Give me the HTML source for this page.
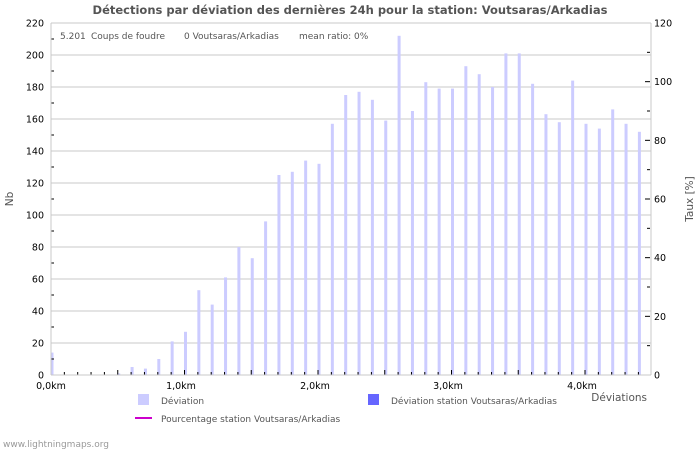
<!DOCTYPE html>
<html><head><meta charset="utf-8"><style>
body{margin:0;background:#fff;}
svg{display:block;font-family:"DejaVu Sans","Liberation Sans",sans-serif;}
</style></head><body>
<svg width="700" height="450" viewBox="0 0 700 450" xmlns="http://www.w3.org/2000/svg">
<rect width="700" height="450" fill="#fff"/>
<text x="350" y="14" text-anchor="middle" font-size="11.5" font-weight="bold" fill="#555">Détections par déviation des dernières 24h pour la station: Voutsaras/Arkadias</text>
<g id="grid" stroke="#c8c8c8" stroke-width="1"></g>
<g id="bars" fill="#ccccff"></g>
<g id="ticks" stroke="#000" stroke-width="1"></g>
<line x1="51" y1="23" x2="51" y2="375" stroke="#c8c8c8"/>
<line x1="651" y1="23" x2="651" y2="375" stroke="#c8c8c8"/>
<line x1="51" y1="375" x2="651" y2="375" stroke="#c8c8c8"/>
<line x1="51" y1="23" x2="651" y2="23" stroke="#c8c8c8"/>
<g id="ylab" font-size="9.5" fill="#000"></g>
<text x="60" y="39" font-size="9" fill="#555">5.201</text>
<text x="91" y="39" font-size="9" fill="#555">Coups de foudre</text>
<text x="184" y="39" font-size="9" fill="#555">0 Voutsaras/Arkadias</text>
<text x="299" y="39" font-size="9" fill="#555">mean ratio: 0%</text>
<text x="13" y="199" font-size="10.5" fill="#555" transform="rotate(-90 13 199)" text-anchor="middle">Nb</text>
<text x="693" y="199" font-size="10.5" fill="#555" transform="rotate(-90 693 199)" text-anchor="middle">Taux [%]</text>
<text x="51" y="389" font-size="9.5" text-anchor="middle">0,0km</text>
<text x="181" y="389" font-size="9.5" text-anchor="middle">1,0km</text>
<text x="315" y="389" font-size="9.5" text-anchor="middle">2,0km</text>
<text x="448" y="389" font-size="9.5" text-anchor="middle">3,0km</text>
<text x="582" y="389" font-size="9.5" text-anchor="middle">4,0km</text>
<text x="647" y="401" font-size="10.5" fill="#555" text-anchor="end">Déviations</text>
<rect x="138" y="394" width="11" height="11" fill="#ccccff"/>
<text x="161" y="404" font-size="9" fill="#555">Déviation</text>
<rect x="368" y="394" width="11" height="11" fill="#6666ff"/>
<text x="391" y="404" font-size="9" fill="#555">Déviation station Voutsaras/Arkadias</text>
<line x1="135" y1="418" x2="152" y2="418" stroke="#cc00cc" stroke-width="2"/>
<text x="161" y="422" font-size="9" fill="#555">Pourcentage station Voutsaras/Arkadias</text>
<text x="3" y="447" font-size="9" fill="#999">www.lightningmaps.org</text>
</svg>
<script>
const ns="http://www.w3.org/2000/svg";
function el(p,t,a,txt){const e=document.createElementNS(ns,t);for(const k in a)e.setAttribute(k,a[k]);if(txt!==undefined)e.textContent=txt;document.getElementById(p).appendChild(e);}
const v=[14,0,0,0,0,1,5,4,10,21,27,53,44,61,80,73,96,125,127,134,132,157,175,177,172,159,212,165,183,179,179,193,188,180,201,201,182,163,158,184,157,154,166,157,152];
const Y=n=>375-n*1.6;
for(let g=20;g<=200;g+=20){el("grid","line",{x1:51,x2:651,y1:Y(g),y2:Y(g)});}
for(let g=0;g<=220;g+=20){el("ylab","text",{x:44,y:Y(g)+3.5,"text-anchor":"end"},g);}
for(let g=10;g<=210;g+=20){el("ticks","line",{x1:51,x2:54,y1:Y(g),y2:Y(g)});}
for(let r=0;r<=120;r+=20){const y=375-r*352/120;el("ylab","text",{x:654,y:y+3.5},r);if(r>0)el("ticks","line",{x1:645,x2:650,y1:y,y2:y});}
for(let r=10;r<=110;r+=20){const y=375-r*352/120;el("ticks","line",{x1:647,x2:650,y1:y,y2:y});}
v.forEach((n,i)=>{const c=52+13.35*i;if(n>0)el("bars","rect",{x:c-1.5,y:Y(n),width:3,height:n*1.6});});
for(let i=1;i<45;i++){const c=51+13.35*i;const big=i%5==0;el("ticks","line",{x1:c,x2:c,y1:big?370:372,y2:375});}
</script>
</body></html>
